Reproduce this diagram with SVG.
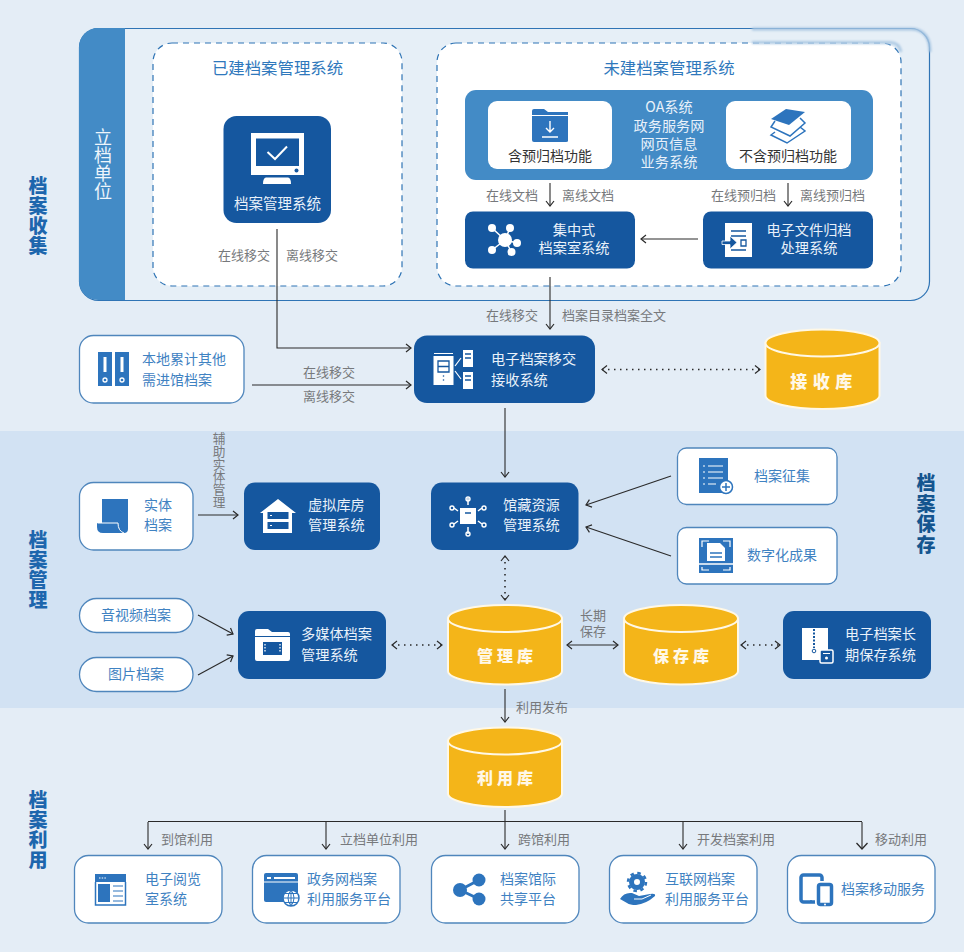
<svg xmlns="http://www.w3.org/2000/svg" width="964" height="952" viewBox="0 0 964 952">
<style>
text{font-family:"Noto Sans CJK SC","Liberation Sans",sans-serif;dominant-baseline:central;transform:translateY(-1px)}
.v{writing-mode:vertical-rl;text-orientation:upright;transform:none}
.w{fill:#e9f1fa;font-size:14.200px}
.b{fill:#3f82c2;font-size:14px}
.g{fill:#77797c;font-size:13px}
.k{fill:#333;font-size:14px}
.m{text-anchor:middle}
.t{fill:#1d66ad;font-size:19px;font-weight:900;letter-spacing:1px}
.h{fill:#2f78bc;font-size:16.400px;text-anchor:middle}
.db{fill:#fff8e8;font-size:16px;font-weight:900;text-anchor:middle;letter-spacing:4px}
.n{fill:#15579f}
.c{fill:#fff;stroke:#4f86bc;stroke-width:1.3}
.i{fill:#2d74bd}
.iw{fill:#fff}
.l{fill:none;stroke:#2a2a2a;stroke-width:1.1}
.a{marker-end:url(#ah)}
.d{fill:none;stroke:#2a2a2a;stroke-width:1.6;stroke-dasharray:1.500 4.500;marker-start:url(#as);marker-end:url(#ah)}
.dash{fill:#fff;stroke:#2f74b5;stroke-width:1.2;stroke-dasharray:6 5}
</style>
<defs>
<marker id="ah" markerUnits="userSpaceOnUse" markerWidth="10" markerHeight="12" refX="7" refY="6" orient="auto"><path d="M2 2L7 6L2 10" fill="none" stroke="#2a2a2a" stroke-width="1.200"/></marker>
<marker id="as" markerUnits="userSpaceOnUse" markerWidth="10" markerHeight="12" refX="2" refY="6" orient="auto"><path d="M7 2L2 6L7 10" fill="none" stroke="#2a2a2a" stroke-width="1.200"/></marker>
<marker id="ahb" markerUnits="userSpaceOnUse" markerWidth="12" markerHeight="14" refX="8" refY="7" orient="auto"><path d="M2 1.500L8 7L2 12.500" fill="none" stroke="#2a2a2a" stroke-width="1.300"/></marker>
<filter id="soft" x="-5%" y="-20%" width="110%" height="140%"><feGaussianBlur stdDeviation=".8"/></filter>
<g id="cyl"><path d="M0 13.500V66A57 13.500 0 0 0 114 66V13.500Z" fill="#f4b519" stroke="#fff8e6" stroke-width="2"/><ellipse cx="57" cy="13.500" rx="57" ry="13.500" fill="#f4b519" stroke="#fff8e6" stroke-width="2"/></g>
</defs>

<rect width="964" height="952" fill="#e4edf6"/>
<rect y="431" width="964" height="277" fill="#d2e2f3"/>

<g id="section-titles">
<text class="t v" x="38" y="176">档案收集</text>
<text class="t v" x="38" y="530">档案管理</text>
<text class="t v" x="38" y="790">档案利用</text>
<text class="t v" style="fill:#14558f;letter-spacing:1.800px" x="926" y="473">档案保存</text>
</g>

<g id="archive-units">
<rect x="79.500" y="28.500" width="850" height="272" rx="19" fill="#e6eff7" stroke="#2f74b5" stroke-width="1.200"/>
<path d="M125 28H98A19 19 0 0 0 79 47V281A19 19 0 0 0 98 300H125Z" fill="#438bc6"/>
<text class="v" style="fill:#eef5fb;font-size:18px" x="103" y="128">立档单位</text>
<rect class="dash" x="153" y="43" width="249" height="243" rx="19"/>
<rect class="dash" x="437" y="43" width="464" height="243" rx="19"/>
<text class="h" x="277.500" y="68">已建档案管理系统</text>
<text class="h" x="669" y="68">未建档案管理系统</text>
<g fill="none" filter="url(#soft)">
<path d="M752 29H912Q930 30 930 52" stroke="#a8c6e2" stroke-width="3"/>
<path d="M752 42.500H890Q899 42.500 901 52" stroke="#aecae4" stroke-width="3"/>
</g>
</g>

<g id="connectors">
<path class="l a" d="M277 229V348H411"/>
<path class="l a" d="M550 183V206"/>
<path class="l a" d="M788 183V206"/>
<path class="l a" d="M698 239H641"/>
<path class="l a" d="M550 277V329"/>
<path class="l a" d="M252 385H411"/>
<path class="d" d="M602 369.500H760"/>
<path class="l a" d="M505 408V477"/>
<path class="l a" d="M198 515H238"/>
<path class="l a" d="M671 476L586 505"/>
<path class="l a" d="M671 556L586 527"/>
<path class="d" d="M505 556V600"/>
<path class="l a" d="M198 615L233 634"/>
<path class="l a" d="M198 675L233 656"/>
<path class="d" d="M392 645H442"/>
<path class="l a" d="M567 645H618" style="marker-start:url(#as)"/>
<path class="d" d="M741 645H780"/>
<path class="l a" d="M505 689V722"/>
<path class="l" d="M505 810V821.500M148 821.500H862"/>
<path class="l a" d="M148 822V849"/>
<path class="l a" d="M326 822V849"/>
<path class="l a" d="M505 822V849"/>
<path class="l a" d="M683 822V849"/>
<path class="l" d="M862 822V849" style="marker-end:url(#ahb)"/>
</g>

<g id="connector-labels">
<text class="g" x="218" y="255">在线移交</text>
<text class="g" x="286" y="255">离线移交</text>
<text class="g" x="486" y="195">在线文档</text>
<text class="g" x="562" y="195">离线文档</text>
<text class="g" x="711" y="195">在线预归档</text>
<text class="g" x="800" y="195">离线预归档</text>
<text class="g" x="486" y="315">在线移交</text>
<text class="g" x="562" y="315">档案目录档案全文</text>
<text class="g" x="303" y="372">在线移交</text>
<text class="g" x="303" y="396">离线移交</text>
<text class="g v" style="font-size:12.700px" x="219" y="432">辅助实体管理</text>
<text class="g m" x="593" y="615">长期</text>
<text class="g m" x="593" y="631">保存</text>
<text class="g" x="516" y="707">利用发布</text>
<text class="g" x="161" y="839">到馆利用</text>
<text class="g" x="340" y="839">立档单位利用</text>
<text class="g" x="518" y="839">跨馆利用</text>
<text class="g" x="697" y="839">开发档案利用</text>
<text class="g" x="875" y="839">移动利用</text>
</g>

<g id="archive-mgmt-system">
<rect class="n" x="223.500" y="116" width="107.500" height="107" rx="13"/>
<rect class="iw" x="251" y="133" width="53" height="42"/><rect class="n" x="256" y="138.500" width="43" height="27.500"/>
<path d="M267.500 152L275 159L287 146.500" fill="none" stroke="#fff" stroke-width="2"/><circle class="n" cx="296.500" cy="170.500" r="2"/>
<path class="iw" d="M266 177.500H288Q291 178 291 184H263Q263 178 266 177.500Z"/>
<text class="w m" style="font-size:14.500px" x="277.500" y="203">档案管理系统</text>
</g>

<g id="source-systems">
<rect x="465" y="90" width="408" height="90" rx="11" fill="#438bc6"/>
<text class="w m" x="669" y="107">OA系统</text>
<text class="w m" x="669" y="125.500">政务服务网</text>
<text class="w m" x="669" y="143.500">网页信息</text>
<text class="w m" x="669" y="161.500">业务系统</text>
</g>
<g id="with-prearchive">
<rect class="iw" x="488" y="101" width="124" height="68" rx="9"/>
<path class="i" d="M532 111Q532 109 534 109H544L548 112H568V141Q568 142 566 142H534Q532 142 532 140Z"/>
<path d="M532 115.500H568" stroke="#fff" stroke-width="1"/>
<path d="M550 121V132M546 128L550 132L554 128M542 137H558" fill="none" stroke="#fff" stroke-width="1.400"/>
<text class="k m" x="550" y="156">含预归档功能</text>
</g>
<g id="without-prearchive">
<rect class="iw" x="726" y="101" width="125" height="68" rx="9"/>
<path class="i" d="M771 119L786 109L805 112L789 125Z"/>
<path d="M775 121L771 127L790 136L805 123L800 118M775 132L771 135L787 143L805 131L800 127" fill="none" stroke="#2d74bd" stroke-width="1.500"/>
<text class="k m" x="788" y="156">不含预归档功能</text>
</g>
<g id="central-archive">
<rect class="n" x="465" y="211.500" width="170" height="57" rx="8"/>
<path d="M505 240L492 228M505 240L510 228M505 240L517 243M505 240L492 250M505 240L511.500 252" stroke="#fff" stroke-width="1.500"/>
<g class="iw"><circle cx="505" cy="240" r="7"/><circle cx="492" cy="228" r="4"/><circle cx="510" cy="228" r="4"/><circle cx="517" cy="243" r="4"/><circle cx="492" cy="250" r="4"/><circle cx="511.500" cy="252" r="4"/></g>
<text class="w m" x="574" y="230">集中式</text>
<text class="w m" x="574" y="248">档案室系统</text>
</g>
<g id="efile-processing">
<rect class="n" x="703" y="211.500" width="170" height="57" rx="8"/>
<rect class="iw" x="725" y="223" width="27" height="34"/>
<path d="M731 231H746M731 236H746M731 250H746M741 240H746V246H741Z" fill="none" stroke="#15579f" stroke-width="1.300"/>
<path d="M722 241H730V236L737 242.500L730 249V244.500H722Z" fill="#15579f" stroke="#fff" stroke-width=".8"/>
<text class="w m" x="809" y="230">电子文件归档</text>
<text class="w m" x="809" y="248">处理系统</text>
</g>

<g id="local-archives">
<rect class="c" x="79.500" y="335.500" width="164.500" height="67.500" rx="14"/>
<rect class="i" x="98" y="352" width="14" height="34"/><rect class="i" x="115" y="352" width="14" height="34"/>
<path d="M105 357V372M122 357V372" stroke="#fff" stroke-width="3"/>
<circle cx="105" cy="380" r="2" fill="none" stroke="#fff" stroke-width="1.300"/><circle cx="122" cy="380" r="2" fill="none" stroke="#fff" stroke-width="1.300"/>
<text class="b" x="142" y="359">本地累计其他</text>
<text class="b" x="142" y="380">需进馆档案</text>
</g>
<g id="transfer-receive">
<rect class="n" x="414" y="335.500" width="181" height="67.500" rx="13"/>
<rect class="iw" x="433.500" y="356" width="20" height="29"/><path d="M434 353.500H453" stroke="#fff"/>
<path d="M438 361H449V372H438ZM438 366.500H449" fill="none" stroke="#15579f" stroke-width="1.300"/>
<circle class="n" cx="443.500" cy="376" r=".8"/><circle class="n" cx="443.500" cy="380" r=".8"/>
<rect class="iw" x="463" y="350" width="10" height="17"/><rect class="iw" x="463" y="372" width="10" height="17"/>
<path d="M465 354H471M465 358H471M465 376H471M465 380H471" stroke="#15579f" stroke-width="1.300"/>
<path d="M461 358L455 366M455 371L461 379" fill="none" stroke="#fff" stroke-width="1.200"/>
<text class="w" x="491" y="359">电子档案移交</text>
<text class="w" x="491" y="380">接收系统</text>
</g>
<g id="receive-db"><use href="#cyl" x="765.500" y="329.500"/><text class="db" style="font-size:17px;letter-spacing:5.500px" x="824" y="381">接收库</text></g>

<g id="physical-archives">
<rect class="c" x="79.500" y="482.500" width="113.500" height="67.500" rx="14"/>
<path class="i" d="M102 499H128V529Q128 533 124 533H103Q97 533 97 527V523H102Z"/>
<path d="M97.500 523H118Q118 531 124 533" fill="none" stroke="#fff" stroke-width="1"/>
<text class="b m" x="158" y="505">实体</text>
<text class="b m" x="158" y="525">档案</text>
</g>
<g id="virtual-warehouse">
<rect class="n" x="244" y="482.500" width="136" height="67.500" rx="11"/>
<path class="iw" d="M278 499L296 513H292V533H263V513H260Z"/>
<rect class="n" x="267.500" y="512" width="21" height="7"/><rect class="n" x="267.500" y="522" width="21" height="7"/>
<path d="M270 515.500H272M270 525.500H272" stroke="#fff"/>
<text class="w" x="308" y="505">虚拟库房</text>
<text class="w" x="308" y="525">管理系统</text>
</g>
<g id="holdings-mgmt">
<rect class="n" x="431" y="482.500" width="147.500" height="67.500" rx="11"/>
<rect class="iw" x="460" y="508" width="16" height="16"/><path d="M465 513H471" stroke="#15579f" stroke-width="1.500"/>
<path d="M468 505V498M468 527V534M458 511L454 508M478 511L482 508M458 521L454 524M478 521L482 524" fill="none" stroke="#fff" stroke-width="1.500"/>
<g fill="none" stroke="#fff" stroke-width="1.400"><circle cx="468" cy="499" r="2"/><circle cx="468" cy="534" r="2"/><circle cx="452" cy="508" r="2"/><circle cx="484" cy="508" r="2"/><circle cx="452" cy="525" r="2"/><circle cx="484" cy="525" r="2"/></g>
<text class="w" x="503" y="505">馆藏资源</text>
<text class="w" x="503" y="525">管理系统</text>
</g>
<g id="collection">
<rect class="c" x="677.500" y="448" width="159.500" height="56.500" rx="9"/>
<rect class="i" x="699" y="458" width="29" height="35"/>
<path d="M703 466H705M708 466H723M703 472H705M708 472H723M703 478H705M708 478H723M703 484H705M708 484H716" fill="none" stroke="#fff" stroke-width="1.200"/>
<circle cx="726" cy="487" r="6.500" fill="#fff" stroke="#2d74bd" stroke-width="1.500"/><path d="M722 487H730M726 483V491" stroke="#2d74bd" stroke-width="1.500"/>
<text class="b m" x="782" y="476">档案征集</text>
</g>
<g id="digitization">
<rect class="c" x="677.500" y="527.500" width="159.500" height="56.500" rx="9"/>
<rect class="i" x="699" y="538" width="34" height="35"/>
<path class="iw" d="M707 543H720L725 548V561H707Z"/>
<path d="M710 553H722M710 557H722" stroke="#2d74bd" stroke-width="1.300"/>
<path d="M699 564H733" stroke="#fff" stroke-width="1.500"/>
<path d="M702 547V541H709M723 541H730V547M702 567V570H709M723 570H730V567" fill="none" stroke="#fff" stroke-width="1.200"/>
<text class="b m" x="782" y="555">数字化成果</text>
</g>

<g id="av-archives"><rect class="c" x="79.500" y="598.500" width="113.500" height="34" rx="17"/><text class="b m" x="136" y="615">音视频档案</text></g>
<g id="image-archives"><rect class="c" x="79.500" y="657.500" width="113.500" height="34" rx="17"/><text class="b m" x="136" y="674">图片档案</text></g>
<g id="multimedia-mgmt">
<rect class="n" x="238" y="611" width="148" height="68" rx="11"/>
<path class="iw" d="M255 631Q255 629 257 629H268L272 632H288Q290 632 290 634V659Q290 661 288 661H257Q255 661 255 659Z"/>
<path d="M255 636.500H290" stroke="#15579f" stroke-width="1"/>
<rect class="n" x="263" y="642" width="19" height="13"/>
<path d="M265 644V653M280 644V653" stroke="#fff" stroke-width="1.300" stroke-dasharray="1.500 1.500"/>
<text class="w" x="301" y="634">多媒体档案</text>
<text class="w" x="301" y="655">管理系统</text>
</g>
<g id="mgmt-db"><use href="#cyl" x="448" y="605"/><text class="db" x="507" y="656">管理库</text></g>
<g id="preserve-db"><use href="#cyl" x="624" y="605"/><text class="db" x="683" y="656">保存库</text></g>
<g id="long-term-system">
<rect class="n" x="783" y="611" width="148" height="68" rx="11"/>
<rect class="iw" x="802" y="628" width="26" height="32"/>
<path d="M814 629V648" stroke="#15579f" stroke-width="2" stroke-dasharray="2 1.500"/><circle cx="814" cy="651" r="1.800" fill="none" stroke="#15579f"/>
<rect x="820" y="650" width="13" height="13" rx="1.500" fill="#15579f" stroke="#fff" stroke-width="1.500"/><circle class="iw" cx="826.500" cy="658" r="1.500"/><path d="M823 653.500H830" stroke="#fff"/>
<text class="w" x="845" y="634">电子档案长</text>
<text class="w" x="845" y="655">期保存系统</text>
</g>
<g id="use-db"><use href="#cyl" x="448" y="727.500"/><text class="db" x="507" y="778">利用库</text></g>

<g id="reading-room">
<rect class="c" x="74.500" y="855.500" width="147.500" height="67.500" rx="14"/>
<rect class="i" x="95" y="874" width="31" height="8"/>
<path d="M95.500 882V905H125.500V882" fill="none" stroke="#2d74bd" stroke-width="1.500"/>
<rect class="i" x="98" y="884" width="12" height="18"/>
<path d="M113 886H123M113 891H123M113 896H123M113 901H123" stroke="#2d74bd" stroke-width="1.200"/>
<path d="M99 878H106" stroke="#fff" stroke-dasharray="1.500 1.200"/>
<text class="b" x="145" y="879">电子阅览</text>
<text class="b" x="145" y="899">室系统</text>
</g>
<g id="gov-platform">
<rect class="c" x="252.500" y="855.500" width="147.500" height="67.500" rx="14"/>
<path class="i" d="M266 873H296Q298 873 298 875V902H266Q264 902 264 900V875Q264 873 266 873Z"/>
<path d="M267 878H271M274 878H295" stroke="#fff" stroke-width="2"/><path d="M264 882H298" stroke="#fff"/>
<circle cx="291" cy="898" r="8" fill="#fff" stroke="#2d74bd" stroke-width="1.500"/>
<path d="M283 898H299M291 890V906M285 893.500H297M285 902.500H297M291 890Q285 898 291 906Q297 898 291 890" fill="none" stroke="#2d74bd" stroke-width="1"/>
<text class="b" x="307" y="879">政务网档案</text>
<text class="b" x="307" y="899">利用服务平台</text>
</g>
<g id="interlibrary">
<rect class="c" x="431.500" y="855.500" width="147.500" height="67.500" rx="14"/>
<path d="M460 890L479 880M460 890L479 899" stroke="#2d74bd" stroke-width="3"/>
<circle class="i" cx="460" cy="890" r="7"/><circle class="i" cx="479" cy="880" r="6.500"/><circle class="i" cx="479" cy="899" r="6.500"/>
<text class="b" x="500" y="879">档案馆际</text>
<text class="b" x="500" y="899">共享平台</text>
</g>
<g id="internet-platform">
<rect class="c" x="609.500" y="855.500" width="147.500" height="67.500" rx="14"/>
<circle cx="637" cy="882" r="5.500" fill="none" stroke="#2d74bd" stroke-width="5"/>
<circle cx="637" cy="882" r="9" fill="none" stroke="#2d74bd" stroke-width="2.500" stroke-dasharray="3.500 3.570"/>
<path class="i" d="M620 899Q624 892 632 893L639 896L650 894Q656 893 655 896Q646 904 636 905Q630 905 627 903Z"/>
<path d="M634 899H642L651 895" fill="none" stroke="#fff" stroke-width="1"/>
<text class="b" x="665" y="879">互联网档案</text>
<text class="b" x="665" y="899">利用服务平台</text>
</g>
<g id="mobile">
<rect class="c" x="787.500" y="855.500" width="147.500" height="67.500" rx="14"/>
<rect x="801" y="875" width="21" height="27" rx="2.500" fill="#fff" stroke="#2d74bd" stroke-width="3.500"/>
<circle class="i" cx="811" cy="901" r="1"/>
<rect x="818" y="884" width="14" height="21" rx="2" fill="#fff" stroke="#fff" stroke-width="6"/>
<rect x="818.500" y="884.500" width="13" height="20" rx="2" fill="#fff" stroke="#2d74bd" stroke-width="3.500"/>
<circle class="iw" cx="825" cy="904.500" r="1"/>
<text class="b" x="841" y="889">档案移动服务</text>
</g>
</svg>
